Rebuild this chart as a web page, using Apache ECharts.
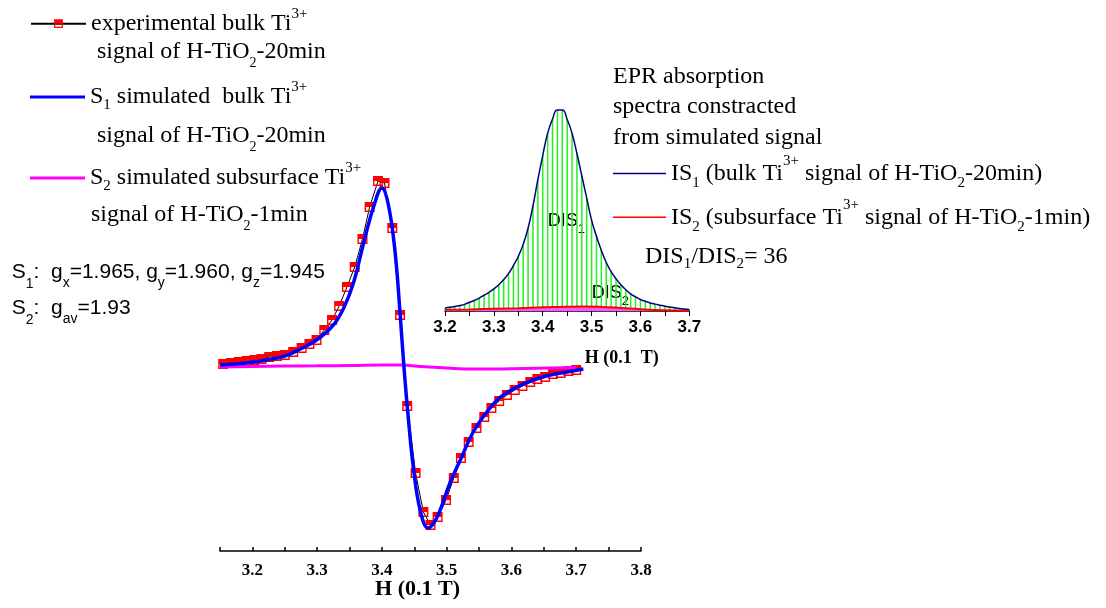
<!DOCTYPE html>
<html><head><meta charset="utf-8">
<script src="https://cdn.jsdelivr.net/npm/echarts@6/dist/echarts.min.js"></script>
<style>html,body{margin:0;padding:0;background:#fff}#c{width:1106px;height:608px}</style>
</head><body><div id="c"></div>
<script>
// ---- main chart data (H in 0.1 T, intensity in a.u.) ----
const expX = [3.155,3.167,3.179,3.191,3.203,3.214,3.226,3.238,3.250,3.263,3.276,3.288,3.299,3.311,3.323,3.334,3.346,3.358,3.370,3.381,3.394,3.404,3.416,3.428,3.439,3.452,3.464,3.475,3.486,3.499,3.511,3.522,3.534,3.546,3.558,3.569,3.581,3.593,3.605,3.617,3.629,3.640,3.652,3.664,3.676,3.688,3.700];
const expY = [0.03,0.04,0.05,0.06,0.07,0.08,0.10,0.11,0.12,0.15,0.19,0.23,0.27,0.37,0.47,0.61,0.80,1.00,1.28,1.60,1.86,1.84,1.39,0.52,-0.39,-1.06,-1.45,-1.58,-1.50,-1.33,-1.11,-0.91,-0.75,-0.61,-0.50,-0.41,-0.34,-0.28,-0.23,-0.19,-0.15,-0.12,-0.10,-0.07,-0.06,-0.04,-0.03];
const s1X = [3.150,3.190,3.222,3.250,3.274,3.299,3.325,3.341,3.356,3.371,3.387,3.400,3.410,3.420,3.428,3.434,3.441,3.449,3.459,3.471,3.480,3.490,3.505,3.521,3.541,3.562,3.583,3.609,3.634,3.660,3.686,3.711];
const s1Y = [0.02,0.04,0.07,0.11,0.18,0.27,0.42,0.59,0.84,1.22,1.60,1.79,1.62,1.17,0.54,0.00,-0.53,-1.03,-1.43,-1.61,-1.56,-1.43,-1.16,-0.93,-0.65,-0.45,-0.30,-0.20,-0.13,-0.08,-0.05,-0.02];
const s2X = [3.15,3.20,3.25,3.30,3.35,3.40,3.43,3.46,3.50,3.53,3.57,3.62,3.66,3.70];
const s2Y = [0.00,0.005,0.01,0.012,0.015,0.02,0.02,0.005,-0.01,-0.02,-0.02,-0.015,-0.01,-0.005];
const mainTickLabels = ['3.2','3.3','3.4','3.5','3.6','3.7','3.8'];

// ---- inset data (absorption spectra) ----
const isX = [3.20,3.21,3.22,3.23,3.24,3.25,3.26,3.27,3.28,3.29,3.30,3.31,3.32,3.33,3.34,3.35,3.36,3.37,3.38,3.39,3.40,3.41,3.42,3.43,3.44,3.45,3.46,3.47,3.48,3.49,3.50,3.51,3.52,3.53,3.54,3.55,3.56,3.57,3.58,3.59,3.60,3.61,3.62,3.63,3.64,3.65,3.66,3.67,3.68,3.69,3.70];
const is1Y = [0.015,0.018,0.022,0.027,0.033,0.043,0.052,0.064,0.078,0.092,0.11,0.13,0.155,0.185,0.225,0.27,0.33,0.41,0.52,0.65,0.77,0.88,0.95,0.995,0.995,0.95,0.88,0.78,0.67,0.56,0.45,0.37,0.30,0.24,0.195,0.16,0.13,0.105,0.085,0.07,0.057,0.048,0.04,0.034,0.029,0.024,0.02,0.016,0.013,0.01,0.008];
const is2X = [3.20,3.25,3.30,3.35,3.40,3.45,3.48,3.52,3.56,3.60,3.65,3.70];
const is2Y = [0.006,0.008,0.011,0.014,0.018,0.021,0.022,0.020,0.015,0.009,0.004,0.002];
const insetTickLabels = ['3.2','3.3','3.4','3.5','3.6','3.7'];

const pairs = (xs, ys) => xs.map((x, i) => [x, ys[i]]);
const SERIF = 'Liberation Serif', SANS = 'Liberation Sans';
const markerPath = 'path://M0,0L10,0L10,10L0,10Z M1.4,5L1.4,8.6L8.6,8.6L8.6,5Z';

function tok(font, size, pad) {
  return {fontFamily: font, fontSize: size, lineHeight: 2, padding: pad, verticalAlign: 'middle', color: '#000'};
}
const richSerif = {
  sup: tok(SERIF, 15, [0,0,19,0]),
  sub: tok(SERIF, 15, [17,0,0,0]),
  sub2: tok(SERIF, 14, [23,0,0,0]),
  rsup: tok(SERIF, 15, [0,0,24,0]),
  rsub: tok(SERIF, 15, [20,0,0,0]),
  dsub: tok(SERIF, 15, [16,0,0,0])
};
const richSans = {
  sd: tok(SANS, 14, [24,0,0,0]),
  sl: tok(SANS, 14, [22,0,0,0]),
  ds: tok(SANS, 13, [17,0,0,0])
};
const legendTextStyle = {fontFamily: SERIF, fontSize: 24, color: '#000', lineHeight: 30, rich: richSerif};
const legendLabels = {
  exp: 'experimental bulk Ti{sup|3+}',
  S1: 'S{sub|1} simulated  bulk Ti{sup|3+}',
  S2: 'S{sub|2} simulated subsurface Ti{sup|3+}',
  IS1: 'IS{rsub|1} (bulk Ti{rsup|3+} signal of H-TiO{rsub|2}-20min)',
  IS2: 'IS{rsub|2} (subsurface Ti{rsup|3+} signal of H-TiO{rsub|2}-1min)'
};
const legendBase = {padding: 0, selectedMode: false, textStyle: legendTextStyle,
  itemStyle: {borderWidth: 0}, formatter: n => legendLabels[n]};

function labelFmt(list) {
  return v => { const s = v.toFixed(1); return (Math.abs(v * 10 - Math.round(v * 10)) < 1e-6 && list.includes(s)) ? s : ''; };
}
function txt(x, y, text, font, size, rich) {
  return {type: 'text', x: x, y: y, silent: true, style: {text: text, fontFamily: font, fontSize: size, fill: '#000',
    verticalAlign: 'middle', align: 'left', lineHeight: 30, rich: rich}};
}

const chart = echarts.init(document.getElementById('c'), null, {renderer: 'canvas'});
chart.setOption({
  animation: false,
  backgroundColor: '#fff',
  grid: [
    {left: 220, right: 465, top: 167, bottom: 57, containLabel: false, outerBoundsMode: 'none'},
    {left: 445, right: 416.7, top: 99, bottom: 297, containLabel: false, outerBoundsMode: 'none'}
  ],
  xAxis: [
    {type: 'value', gridIndex: 0, min: 3.15, max: 3.8, interval: 0.05,
      name: 'H (0.1 T)', nameLocation: 'middle', nameGap: 27, nameMoveOverlap: false,
      nameTextStyle: {fontFamily: SERIF, fontSize: 22, fontWeight: 'bold', color: '#000', padding: [0, 26, 0, 0]},
      axisLine: {onZero: false, lineStyle: {color: '#000', width: 1.5}},
      axisTick: {inside: true, length: 4, lineStyle: {color: '#000', width: 1.5}},
      axisLabel: {margin: 11, fontFamily: SERIF, fontSize: 17, fontWeight: 'bold', color: '#000', formatter: labelFmt(mainTickLabels)},
      splitLine: {show: false}},
    {type: 'value', gridIndex: 1, min: 3.2, max: 3.7, interval: 0.05,
      name: 'H (0.1  T)', nameLocation: 'middle', nameGap: 38, nameMoveOverlap: false,
      nameTextStyle: {fontFamily: SERIF, fontSize: 18, fontWeight: 'bold', color: '#000', padding: [0, 0, 0, 109]},
      axisLine: {onZero: false, lineStyle: {color: '#000', width: 1.5}},
      axisTick: {inside: false, length: 5, lineStyle: {color: '#000', width: 1}},
      axisLabel: {margin: 8, fontFamily: SANS, fontSize: 17, fontWeight: 'bold', color: '#000', formatter: labelFmt(insetTickLabels)},
      splitLine: {show: false}}
  ],
  yAxis: [
    {type: 'value', gridIndex: 0, min: -1.84, max: 2.0, show: false},
    {type: 'value', gridIndex: 1, min: 0, max: 1.05, show: false}
  ],
  legend: [
    Object.assign({}, legendBase, {data: ['exp'], left: 30, top: 6.7, itemWidth: 55, itemHeight: 11}),
    Object.assign({}, legendBase, {data: [{name: 'S1', icon: 'rect'}], left: 30, top: 80, itemWidth: 55, itemHeight: 3}),
    Object.assign({}, legendBase, {data: [{name: 'S2', icon: 'rect'}], left: 30, top: 161, itemWidth: 55, itemHeight: 3}),
    Object.assign({}, legendBase, {data: [{name: 'IS1', icon: 'rect'}, {name: 'IS2', icon: 'rect'}], orient: 'vertical',
      left: 613, top: 154, itemWidth: 53, itemHeight: 1.5, itemGap: 4.8})
  ],
  graphic: [
    txt(97, 52, 'signal of H-TiO{sub2|2}-20min', SERIF, 24, richSerif),
    txt(97, 135.5, 'signal of H-TiO{sub2|2}-20min', SERIF, 24, richSerif),
    txt(91, 215, 'signal of H-TiO{sub2|2}-1min', SERIF, 24, richSerif),
    txt(11.7, 272.5, 'S{sd|1}:  g{sl|x}=1.965, g{sl|y}=1.960, g{sl|z}=1.945', SANS, 21, richSans),
    txt(11.7, 308, 'S{sd|2}:  g{sl|av}=1.93', SANS, 21, richSans),
    txt(613, 76.5, 'EPR absorption', SERIF, 24, richSerif),
    txt(613, 107, 'spectra constracted', SERIF, 24, richSerif),
    txt(613, 137.5, 'from simulated signal', SERIF, 24, richSerif),
    txt(645, 256.5, 'DIS{dsub|1}/DIS{dsub|2}= 36', SERIF, 24, richSerif),
    txt(547.7, 220.7, 'DIS{ds|1}', SANS, 18, richSans),
    txt(591.7, 293.3, 'DIS{ds|2}', SANS, 18, richSans)
  ],
  series: [
    {name: 'DIS', type: 'bar', xAxisIndex: 1, yAxisIndex: 1, data: pairs(isX, is1Y), barWidth: 1.5,
      itemStyle: {color: '#22f022'}, silent: true, z: 1},
    {name: 'IS2', type: 'line', xAxisIndex: 1, yAxisIndex: 1, data: pairs(is2X, is2Y), smooth: true, symbol: 'none',
      lineStyle: {color: '#ff0000', width: 2}, itemStyle: {color: '#ff0000', borderWidth: 0},
      areaStyle: {color: '#ff55ff', opacity: 1}, z: 2},
    {name: 'IS1', type: 'line', xAxisIndex: 1, yAxisIndex: 1, data: pairs(isX, is1Y), smooth: true, symbol: 'none',
      lineStyle: {color: '#000080', width: 1.5}, itemStyle: {color: '#000080', borderWidth: 0}, z: 3},
    {name: 'exp', type: 'line', xAxisIndex: 0, yAxisIndex: 0, data: pairs(expX, expY), symbol: markerPath, symbolSize: 10,
      showAllSymbol: true, lineStyle: {color: '#000', width: 1}, itemStyle: {color: '#ff0000', borderWidth: 0}, z: 2},
    {name: 'S2', type: 'line', xAxisIndex: 0, yAxisIndex: 0, data: pairs(s2X, s2Y), smooth: true, symbol: 'none',
      lineStyle: {color: '#ff00ff', width: 3}, itemStyle: {color: '#ff00ff', borderWidth: 0}, z: 3},
    {name: 'S1', type: 'line', xAxisIndex: 0, yAxisIndex: 0, data: pairs(s1X, s1Y), smooth: 0.4, symbol: 'none',
      lineStyle: {color: '#0000ff', width: 3.5}, itemStyle: {color: '#0000ff', borderWidth: 0}, z: 4}
  ]
});
</script>
</body></html>
